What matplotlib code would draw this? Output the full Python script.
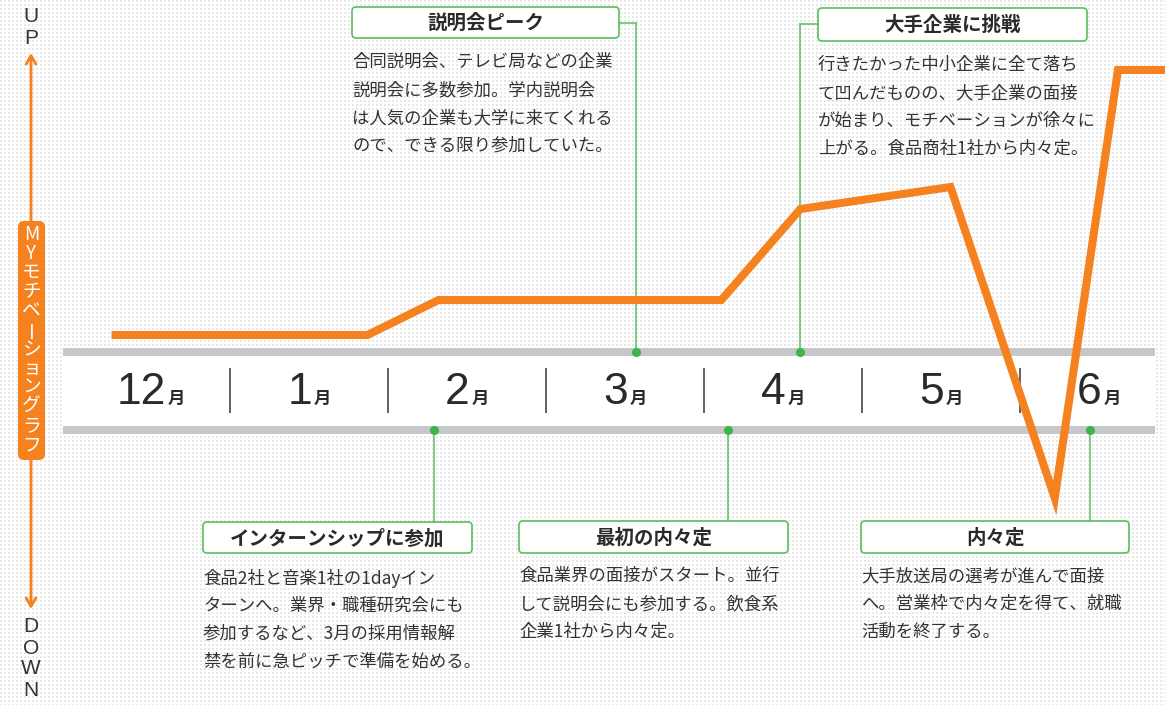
import numpy as np
import matplotlib
matplotlib.use("Agg")
import matplotlib.pyplot as plt
import matplotlib.font_manager as fm
from matplotlib.patches import FancyBboxPatch, Rectangle
from matplotlib.transforms import blended_transform_factory
from matplotlib.offsetbox import TextArea, HPacker, AnnotationBbox

# ---------------- data ----------------
month_nums = ["12", "1", "2", "3", "4", "5", "6"]
month_unit = "月"
# motivation curve: x in months from start of December, y = motivation level
motiv_x = [0.25, 1.87, 2.32, 4.11, 4.61, 5.56, 6.22, 6.62, 7.00]
motiv_y = [0.57, 0.57, 0.92, 0.92, 1.83, 2.05, -1.06, 3.22, 3.22]

event_titles = ["説明会ピーク", "大手企業に挑戦", "インターンシップに参加", "最初の内々定", "内々定"]
event_pos = [3.57, 4.61, 2.29, 4.15, 6.44]   # month position of each event marker
event_body = [
    ["合同説明会、テレビ局などの企業", "説明会に多数参加。学内説明会",
     "は人気の企業も大学に来てくれる", "ので、できる限り参加していた。"],
    ["行きたかった中小企業に全て落ち", "て凹んだものの、大手企業の面接",
     "が始まり、モチベーションが徐々に", "上がる。食品商社1社から内々定。"],
    ["食品2社と音楽1社の1dayイン", "ターンへ。業界・職種研究会にも",
     "参加するなど、3月の採用情報解", "禁を前に急ピッチで準備を始める。"],
    ["食品業界の面接がスタート。並行", "して説明会にも参加する。飲食系",
     "企業1社から内々定。"],
    ["大手放送局の選考が進んで面接", "へ。営業枠で内々定を得て、就職",
     "活動を終了する。"],
]
axis_title = "MYモチベーショングラフ"
up_label = "UP"
down_label = "DOWN"

# ---------------- style ----------------
W, H = 1165, 705
ORANGE = "#F5821F"
GREEN_LINE = "#5BBE5F"
GREEN_DOT = "#3DB54A"
BAR_GRAY = "#C6C7C9"
TXT = "#2a2a2a"
JP = ["Noto Sans CJK JP", "DejaVu Sans"]

names = {f.name for f in fm.fontManager.ttflist}
if "Liberation Sans Narrow" in names:
    num_font, num_size = "Liberation Sans Narrow", 35
else:
    num_font, num_size = "Liberation Sans", 32
thin_font = "Liberation Sans"

fig = plt.figure(figsize=(W / 100, H / 100), dpi=100)

# pixel-coordinate layer for decoration
bg = fig.add_axes([0, 0, 1, 1])
bg.set_xlim(0, W)
bg.set_ylim(H, 0)
bg.axis("off")

pattern = np.ones((H, W, 3))
yy, xx = np.mgrid[0:H, 0:W]
mask = ((yy % 4) < 2) & ((xx % 4) < 2)
pattern[mask] = 0.91
bg.imshow(pattern, extent=[0, W, H, 0], interpolation="nearest", aspect="auto", zorder=0)

# band
bg.add_patch(Rectangle((63, 348), 1155 - 63, 85, facecolor="white", edgecolor="none", zorder=1))
bg.add_patch(Rectangle((63, 348), 1155 - 63, 8, facecolor=BAR_GRAY, edgecolor="none", zorder=2))
bg.add_patch(Rectangle((63, 426), 1155 - 63, 8, facecolor=BAR_GRAY, edgecolor="none", zorder=2))

# data layer
ax = fig.add_axes([0, 0, 1, 1])
ax.patch.set_alpha(0)
ax.axis("off")
px0, pxm = 72, 158
ax.set_xlim(-px0 / pxm, (W - px0) / pxm)
ax.set_ylim((392 - H) / 100, 392 / 100)
blend = blended_transform_factory(ax.transData, bg.transData)

# month separators and labels
ax.vlines(np.arange(1, len(month_nums)), 368, 413, transform=blend, color="#555555", lw=1.3, zorder=3)
for i, num in enumerate(month_nums):
    t1 = TextArea(num, textprops=dict(fontsize=num_size, family=num_font, color=TXT))
    t2 = TextArea(month_unit, textprops=dict(fontsize=12.5, family=JP, weight="bold", color=TXT))
    hp = HPacker(children=[t1, t2], align="baseline", pad=0, sep=1)
    ab = AnnotationBbox(hp, (i + 0.5, 392), xycoords=blend, box_alignment=(0.5, 0.5),
                        frameon=False, zorder=4)
    ax.add_artist(ab)

# events: boxes, connectors, texts
box_geo = [  # left, top, right, bottom, connector type
    (352, 7, 619, 38, "right"),
    (818, 8, 1087, 41, "left"),
    (203, 522, 472, 553, "top"),
    (519, 521, 788, 553, "top"),
    (861, 521, 1129, 553, "top"),
]
body_first = [62, 65, 578, 576, 576]
for k, (l, t, r, b, kind) in enumerate(box_geo):
    cx = event_pos[k]
    if kind == "right":
        ym = (t + b) / 2
        ax.plot([r, cx * pxm + px0], [ym, ym], transform=bg.transData, color=GREEN_LINE, lw=1.1, zorder=3)
        ax.plot([cx, cx], [ym, 352], transform=blend, color=GREEN_LINE, lw=1.1, zorder=3)
        ax.plot([cx], [352], transform=blend, marker="o", ms=5.5, color=GREEN_DOT, zorder=5)
    elif kind == "left":
        ym = 24
        ax.plot([l, cx * pxm + px0], [ym, ym], transform=bg.transData, color=GREEN_LINE, lw=1.1, zorder=3)
        ax.plot([cx, cx], [ym, 352], transform=blend, color=GREEN_LINE, lw=1.1, zorder=3)
        ax.plot([cx], [352], transform=blend, marker="o", ms=5.5, color=GREEN_DOT, zorder=5)
    else:
        ax.plot([cx, cx], [t, 430], transform=blend, color=GREEN_LINE, lw=1.1, zorder=3)
        ax.plot([cx], [430], transform=blend, marker="o", ms=5.5, color=GREEN_DOT, zorder=5)
    bg.add_patch(FancyBboxPatch((l, t), r - l, b - t, boxstyle="round,pad=0,rounding_size=4",
                                facecolor="white", edgecolor=GREEN_LINE, lw=1.2, zorder=6))
    bg.text((l + r) / 2, (t + b) / 2 + 1, event_titles[k], ha="center", va="center",
            fontsize=14, weight="bold", family=JP, color=TXT, zorder=7)
    for j, line in enumerate(event_body[k]):
        bg.text(l, body_first[k] + 28 * j, line, ha="left", va="center",
                fontsize=12.5, family=JP, color="#333333", zorder=7)

# motivation line
ax.plot(motiv_x, motiv_y, color=ORANGE, lw=5.8, solid_joinstyle="miter",
        solid_capstyle="butt", zorder=8, clip_on=True)

# left vertical axis
bg.annotate("", xy=(31, 53), xytext=(31, 609),
            arrowprops=dict(arrowstyle="<->,head_length=0.6,head_width=0.35", color=ORANGE, lw=2,
                            shrinkA=0, shrinkB=0), zorder=3)
bg.add_patch(FancyBboxPatch((18, 221), 27, 239, boxstyle="round,pad=0,rounding_size=6",
                            facecolor=ORANGE, edgecolor="none", zorder=4))
for k, ch in enumerate(axis_title):
    rot = 90 if ch == "ー" else 0
    bg.text(31.5, 234 + 19.2 * k, ch, ha="center", va="center", fontsize=13.5, rotation=rot,
            family=JP, color="white", zorder=5)
for k, ch in enumerate(up_label):
    bg.text(31, 17 + 21.5 * k, ch, ha="center", va="center", fontsize=15,
            family=thin_font, color="#333333", zorder=5)
for k, ch in enumerate(down_label):
    bg.text(31, 627 + 21 * k, ch, ha="center", va="center", fontsize=15,
            family=thin_font, color="#333333", zorder=5)

fig.savefig("out.png", dpi=100)
